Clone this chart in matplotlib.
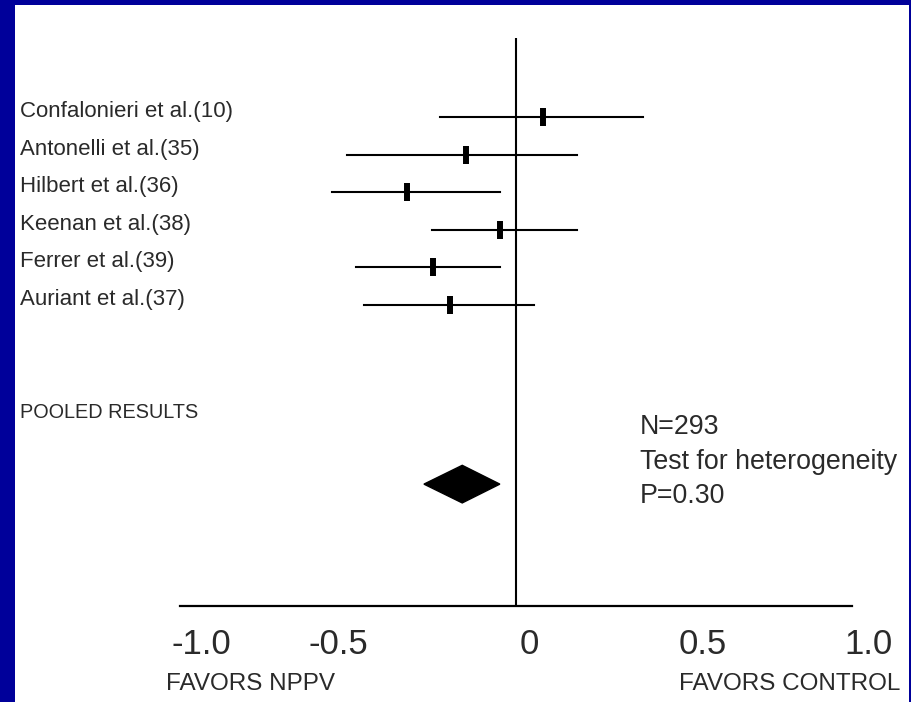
import matplotlib
matplotlib.use('Agg')
import numpy as np
import matplotlib.pyplot as plt
import matplotlib.transforms as mtransforms
from matplotlib.patches import Rectangle, Polygon

### Data
studies = ['Confalonieri et al.(10)', 'Antonelli et al.(35)', 'Hilbert et al.(36)',
           'Keenan et al.(38)', 'Ferrer et al.(39)', 'Auriant et al.(37)']
estimate = [0.080, -0.149, -0.324, -0.048, -0.247, -0.196]
ci_low = [-0.226, -0.503, -0.548, -0.250, -0.476, -0.452]
ci_high = [0.378, 0.182, -0.048, 0.182, -0.048, 0.054]

pooled_est = -0.160
pooled_low = -0.274
pooled_high = -0.048

tick_labels = ['-1.0', '-0.5', '0', '0.5', '1.0']
pooled_text = ['N=293', 'Test for heterogeneity', 'P=0.30']

### Layout
W, H = 912, 702
row_y = np.arange(len(studies))
pooled_label_y = 8.0
pooled_y = 9.76
text_y = [8.43, 9.36, 10.26]
tick_pos = [-0.935, -0.53, 0.039, 0.557, 1.048]
blue = '#00009a'
txt = '#2a2a2a'
fam = ['Liberation Sans', 'DejaVu Sans']

fig = plt.figure(figsize=(W / 100, H / 100), dpi=100)
fig.patch.set_facecolor(blue)
fig.patches.append(Rectangle((15 / W, 0), (909 - 15) / W, (702 - 5) / H,
                             transform=fig.transFigure, facecolor='white',
                             edgecolor='none', zorder=-5))

# axes frame: x from pixel 180 to 852, y from 38 to 606
ax = fig.add_axes([180 / W, (H - 606) / H, 672 / W, 568 / H])
ax.set_facecolor('none')
ax.set_xlim(-1, 1)
ax.set_ylim(13.0, -2.10)
for s in ['top', 'right', 'left']:
    ax.spines[s].set_visible(False)
ax.spines['bottom'].set_linewidth(1.6)
ax.set_yticks([])
ax.set_xticks([])

# tick labels sit loosely under the axis, so they are drawn as text
trans = mtransforms.blended_transform_factory(ax.transData, ax.transAxes)
for p, lab in zip(tick_pos, tick_labels):
    ax.text(p, -0.0845, lab, transform=trans, fontsize=25, family=fam, color=txt,
            ha='center', va='baseline', clip_on=False)

ax.axvline(0, color='black', linewidth=1.5)

for i in range(len(studies)):
    ax.plot([ci_low[i], ci_high[i]], [row_y[i], row_y[i]], color='black', linewidth=1.5)
    ax.plot([estimate[i]], [row_y[i]], marker='|', markersize=13,
            markeredgewidth=4.3, color='black')
    ax.text(-1.476, row_y[i], studies[i], fontsize=16, family=fam, color=txt,
            ha='left', va='baseline', clip_on=False)

ax.text(-1.476, pooled_label_y, 'POOLED RESULTS', fontsize=14.3, family=fam,
        color=txt, ha='left', va='baseline', clip_on=False)

dh = 0.5
ax.add_patch(Polygon([[pooled_low, pooled_y], [pooled_est, pooled_y - dh],
                      [pooled_high, pooled_y], [pooled_est, pooled_y + dh]],
                     closed=True, facecolor='black', edgecolor='black'))

for k, line in enumerate(pooled_text):
    ax.text(0.369, text_y[k], line, fontsize=19.3, family=fam, color=txt,
            ha='left', va='baseline', clip_on=False)

fig.text(166 / W, (H - 690) / H, 'FAVORS NPPV', fontsize=17.5, family=fam,
         color=txt, ha='left', va='baseline')
fig.text(900 / W, (H - 690) / H, 'FAVORS CONTROL', fontsize=17.5, family=fam,
         color=txt, ha='right', va='baseline')

fig.savefig('out.png', dpi=100, facecolor=fig.get_facecolor())
